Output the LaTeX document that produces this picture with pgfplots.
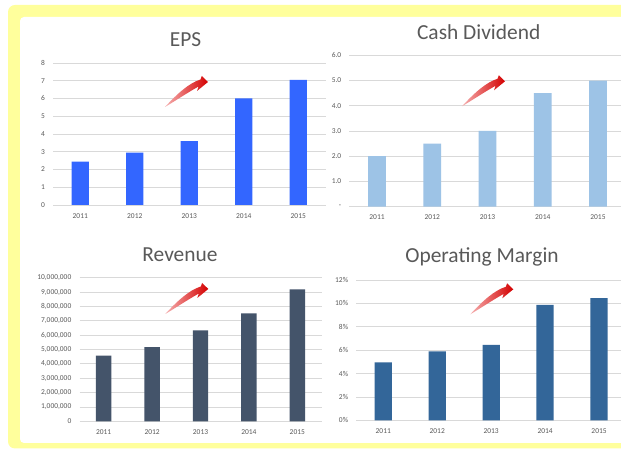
\documentclass[border=0pt]{standalone}
\usepackage{pgfplots}
\pgfplotsset{compat=1.18}
\usepackage{fontspec}
\setmainfont{Carlito}
\definecolor{txt}{HTML}{595959}
\definecolor{gridc}{HTML}{D9D9D9}
\definecolor{yel}{HTML}{FFFF9C}
\definecolor{epsc}{HTML}{3366FF}
\definecolor{divc}{HTML}{9DC3E6}
\definecolor{revc}{HTML}{44546A}
\definecolor{opc}{HTML}{336699}
\definecolor{arr}{HTML}{D40000}
\definecolor{arrl}{HTML}{F6B0B0}
\pgfplotsset{
  panel/.style={
    scale only axis,
    anchor=south west,
    axis line style={draw=none},
    major tick length=0pt,
    ymajorgrids,
    major grid style={gridc, line width=0.8bp},
    xmin=-0.5, xmax=4.5,
    xtick={0,1,2,3,4},
    xticklabels={2011,2012,2013,2014,2015},
    scaled y ticks=false,
    ybar, bar width=0.32,
    ticklabel style={font=\fontsize{7.5}{9}\selectfont, text=txt, inner sep=0pt},
    yticklabel style={xshift=-8bp},
    xticklabel style={yshift=-8bp},
  }
}
\newcommand{\trendarrow}[2]{%
  \shade[left color=arrl, right color=arr, shift={(#1,#2)}]
    (0,0) .. controls (12,13) and (24,24) .. (35.5,27.5)
    -- (36.8,31) -- (43,25) -- (32,16) -- (33.5,20.5)
    .. controls (22,14) and (10,6) .. (0,0) -- cycle;}
\begin{document}
\begin{tikzpicture}[x=1bp,y=1bp]
\useasboundingbox (0,0) rectangle (621,449);
\begin{scope}
\clip (0,0) rectangle (621,449);
\fill[yel, rounded corners=7bp] (8,0.5) rectangle (650,444);
\fill[white, rounded corners=4bp] (20,6) rectangle (650,432);

% EPS
\begin{axis}[panel, at={(53bp,244bp)}, width=272.5bp, height=142bp,
  ymin=0, ymax=8, ytick={0,1,2,3,4,5,6,7,8},
  yticklabels={0,1,2,3,4,5,6,7,8}]
\addplot[fill=epsc, draw=none] coordinates {(0,2.45) (1,2.95) (2,3.6) (3,6.0) (4,7.05)};
\end{axis}

% Cash Dividend
\begin{axis}[panel, at={(349.4bp,242.3bp)}, width=276.2bp, height=151.4bp,
  ymin=0, ymax=6, ytick={0,1,2,3,4,5,6},
  yticklabels={-,1.0,2.0,3.0,4.0,5.0,6.0}]
\addplot[fill=divc, draw=none] coordinates {(0,2.0) (1,2.5) (2,3.0) (3,4.5) (4,5.0)};
\end{axis}

% Revenue
\begin{axis}[panel, at={(79.5bp,27.7bp)}, width=242bp, height=143.6bp,
  ymin=0, ymax=10000000,
  ytick={0,1000000,2000000,3000000,4000000,5000000,6000000,7000000,8000000,9000000,10000000},
  yticklabels={0,{1,000,000},{2,000,000},{3,000,000},{4,000,000},{5,000,000},{6,000,000},{7,000,000},{8,000,000},{9,000,000},{10,000,000}}]
\addplot[fill=revc, draw=none] coordinates {(0,4570000) (1,5170000) (2,6340000) (3,7520000) (4,9190000)};
\end{axis}

% Operating Margin
\begin{axis}[panel, at={(356.3bp,28.7bp)}, width=269.7bp, height=140.3bp,
  ymin=0, ymax=12, ytick={0,2,4,6,8,10,12},
  yticklabels={0\%,2\%,4\%,6\%,8\%,10\%,12\%}]
\addplot[fill=opc, draw=none] coordinates {(0,4.95) (1,5.9) (2,6.45) (3,9.88) (4,10.45)};
\end{axis}

\node[anchor=base, font=\fontsize{21.5}{24}\selectfont, text=txt] at (185.5,402.3) {EPS};
\node[anchor=base, font=\fontsize{21.5}{24}\selectfont, text=txt] at (478.7,409.7) {Cash Dividend};
\node[anchor=base, font=\fontsize{21.5}{24}\selectfont, text=txt] at (180,187.3) {Revenue};
\node[anchor=base, font=\fontsize{21.5}{24}\selectfont, text=txt] at (482,186.3) {Operating Margin};

\trendarrow{165}{342}
\trendarrow{462}{342.7}
\trendarrow{165.3}{135}
\trendarrow{470.3}{134.7}
\end{scope}
\end{tikzpicture}
\end{document}
